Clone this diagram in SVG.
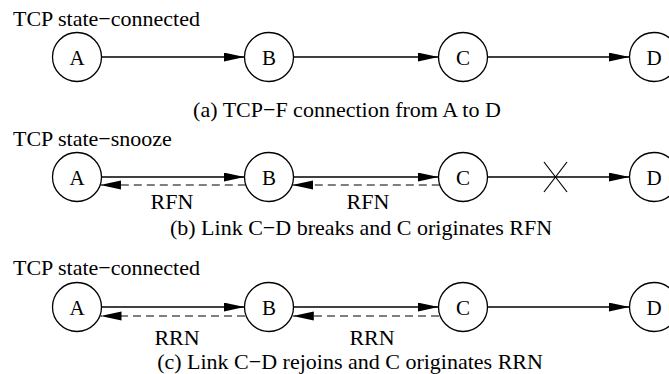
<svg xmlns="http://www.w3.org/2000/svg" width="669" height="374" viewBox="0 0 669 374" font-family="'Liberation Serif', 'Times New Roman', 'DejaVu Serif', serif">
<style>
text{font-family:'Liberation Serif','Times New Roman','DejaVu Serif',serif;font-size:22px;fill:#000}
.n circle{fill:#fff;stroke:#000;stroke-width:1.3}
.n text{text-anchor:middle;font-size:21px}
.s{stroke:#000;stroke-width:1.3;fill:none;marker-end:url(#ah)}
.d{stroke:#555;stroke-width:1.6;fill:none;stroke-dasharray:8 5;marker-end:url(#ah)}
.x{stroke:#000;stroke-width:1.2}
.c{text-anchor:middle}
</style>
<defs>
<marker id="ah" markerUnits="userSpaceOnUse" markerWidth="22" markerHeight="10" refX="21" refY="4.5" orient="auto">
<path d="M0,0 L21,4.5 L0,9 z" fill="#000"/>
</marker>
</defs>
<rect width="669" height="374" fill="#fff"/>
<g id="labels">
<text x="13" y="26">TCP state−connected</text>
<text class="c" x="347" y="117">(a) TCP−F connection from A to D</text>
<text x="13" y="146">TCP state−snooze</text>
<text class="c" x="172" y="209">RFN</text>
<text class="c" x="368" y="209">RFN</text>
<text class="c" x="361" y="235">(b) Link C−D breaks and C originates RFN</text>
<text x="13" y="275">TCP state−connected</text>
<text class="c" x="177" y="345">RRN</text>
<text class="c" x="372" y="345">RRN</text>
<text class="c" x="350" y="369">(c) Link C−D rejoins and C originates RRN</text>
</g>
<g id="connectors">
<line class="s" x1="101.5" y1="57" x2="244.5" y2="57"/>
<line class="s" x1="293.5" y1="57" x2="438.5" y2="57"/>
<line class="s" x1="487.5" y1="57" x2="629.5" y2="57"/>
<line class="s" x1="101.5" y1="177" x2="244.5" y2="177"/>
<line class="s" x1="293.5" y1="177" x2="438.5" y2="177"/>
<line class="s" x1="487.5" y1="177" x2="629.5" y2="177"/>
<line class="d" x1="245.8" y1="185" x2="100.2" y2="185"/>
<line class="d" x1="439.8" y1="185" x2="292.2" y2="185"/>
<line class="x" x1="544" y1="162" x2="567" y2="192"/>
<line class="x" x1="567" y1="162" x2="544" y2="192"/>
<line class="s" x1="101.5" y1="307" x2="244.5" y2="307"/>
<line class="s" x1="293.5" y1="307" x2="438.5" y2="307"/>
<line class="s" x1="487.5" y1="307" x2="629.5" y2="307"/>
<line class="d" x1="245" y1="316" x2="100.5" y2="316"/>
<line class="d" x1="439" y1="316" x2="292.8" y2="316"/>
</g>
<g id="A1" class="n"><circle cx="77" cy="57" r="24.5"/><text x="77" y="65">A</text></g>
<g id="B1" class="n"><circle cx="269" cy="57" r="24.5"/><text x="269" y="65">B</text></g>
<g id="C1" class="n"><circle cx="463" cy="57" r="24.5"/><text x="463" y="65">C</text></g>
<g id="D1" class="n"><circle cx="654" cy="57" r="24.5"/><text x="654" y="65">D</text></g>
<g id="A2" class="n"><circle cx="77" cy="177" r="24.5"/><text x="77" y="185">A</text></g>
<g id="B2" class="n"><circle cx="269" cy="177" r="24.5"/><text x="269" y="185">B</text></g>
<g id="C2" class="n"><circle cx="463" cy="177" r="24.5"/><text x="463" y="185">C</text></g>
<g id="D2" class="n"><circle cx="654" cy="177" r="24.5"/><text x="654" y="185">D</text></g>
<g id="A3" class="n"><circle cx="77" cy="307" r="24.5"/><text x="77" y="315">A</text></g>
<g id="B3" class="n"><circle cx="269" cy="307" r="24.5"/><text x="269" y="315">B</text></g>
<g id="C3" class="n"><circle cx="463" cy="307" r="24.5"/><text x="463" y="315">C</text></g>
<g id="D3" class="n"><circle cx="654" cy="307" r="24.5"/><text x="654" y="315">D</text></g>
</svg>
